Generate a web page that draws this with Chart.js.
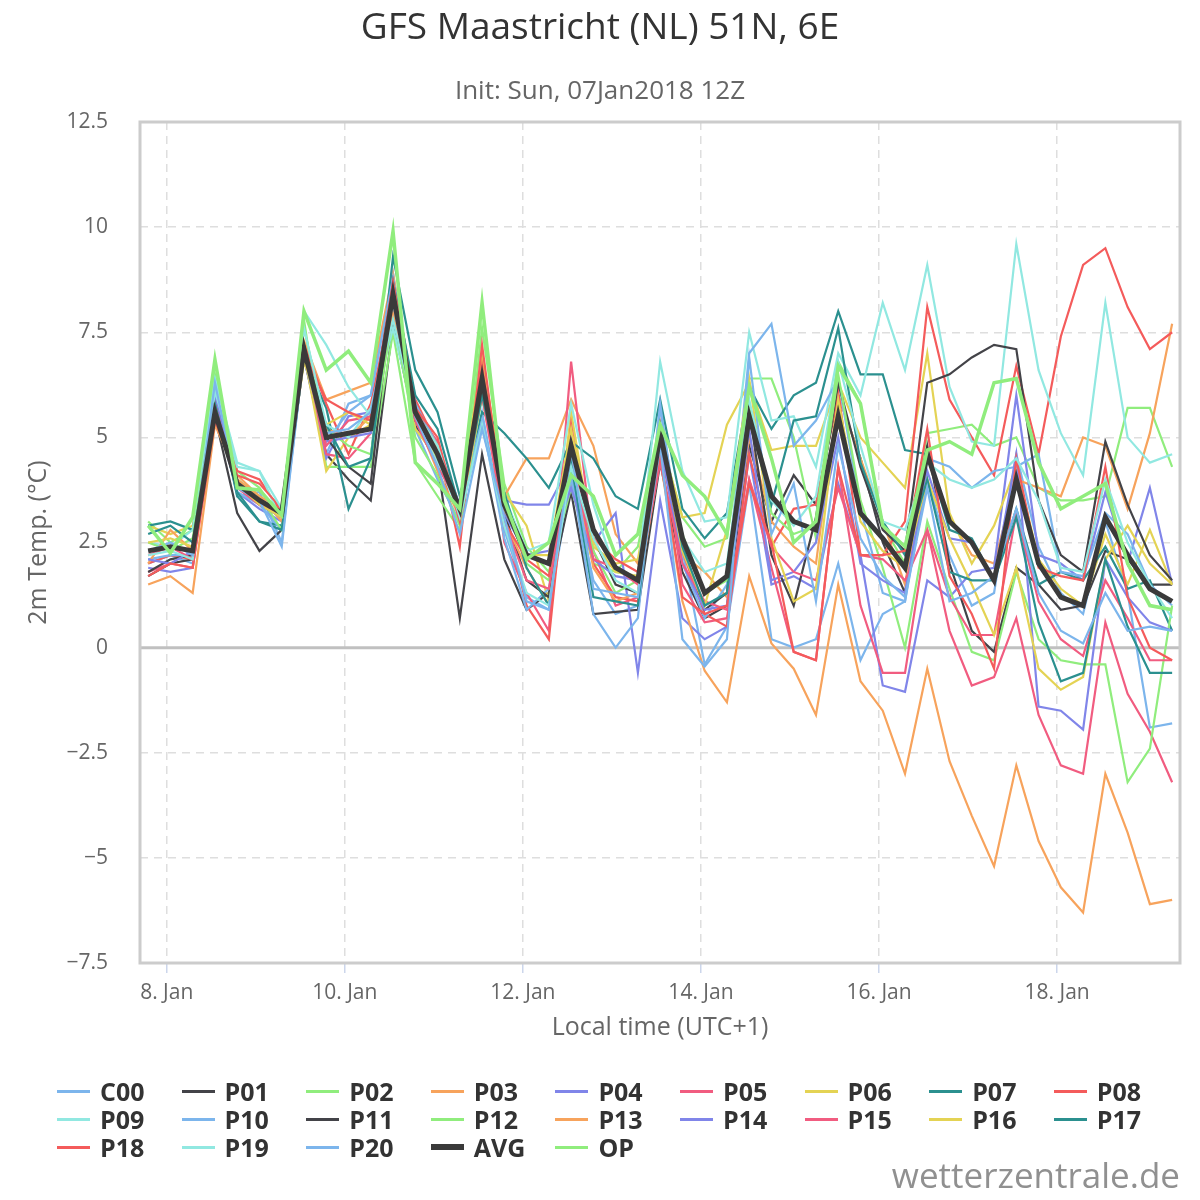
<!DOCTYPE html>
<html lang="en">

<head>
    <meta charset="UTF-8">
    <title>GFS Maastricht</title>
    <script src="https://cdn.jsdelivr.net/npm/chart.js"></script>
    <style>
        body {
            margin: 0;
            background: #fff;
            font-family: "Open Sans", "Noto Sans", sans-serif;
        }

        .wrap {
            position: relative;
            width: 1200px;
            height: 1200px;
        }

        #legend {
            position: absolute;
            left: 57px;
            top: 1077px;
            display: grid;
            grid-template-columns: repeat(9, 124.6px);
            grid-auto-rows: 28px;
        }

        .item {
            display: flex;
            align-items: center;
            font-weight: bold;
            font-size: 25px;
            color: #333;
        }

        .item span.sym {
            display: inline-block;
            width: 33px;
            margin-right: 10px;
        }

        .mark {
            position: absolute;
            right: 20px;
            top: 1151px;
            font-size: 35px;
            color: #909090;
        }
    </style>
</head>

<body>
    <div class="wrap">
        <canvas id="ensChart" width="1200" height="1200"></canvas>
        <div id="legend"></div>
        <div class="mark">wetterzentrale.de</div>
    </div>
    <script>
        // time grid: first value 7 Jan 19:00 local, then every 6 hours
        const firstHour = -5;
        const stepHours = 6;
        const tickDays = [0, 2, 4, 6, 8, 10];
        const tickLabels = ['8. Jan', '10. Jan', '12. Jan', '14. Jan', '16. Jan', '18. Jan'];

        const c00 = [2.0, 2.2, 2.0, 6.2, 3.6, 3.7, 2.5, 7.0, 4.6, 5.8, 6.0, 8.9, 5.2, 4.0, 3.0, 5.6, 2.8, 1.2, 0.9, 4.0, 1.6, 0.8, 1.0, 5.7, 2.3, -0.4, 0.5, 3.9, 0.2, 0.0, 0.2, 2.0, -0.3, 0.8, 1.1, 4.0, 2.2, 1.0, 1.3, 4.6, 2.4, 1.3, 0.8, 3.0, 1.3, -1.9, -1.8];
        const p01 = [1.7, 2.0, 2.1, 5.5, 3.2, 2.3, 2.8, 6.9, 4.6, 4.0, 3.5, 7.7, 5.3, 4.4, 0.7, 4.6, 2.1, 0.9, 1.3, 3.7, 0.8, 0.85, 0.9, 4.4, 1.8, 0.7, 1.0, 4.8, 3.0, 4.1, 3.4, 6.0, 4.5, 2.5, 1.3, 4.8, 2.0, 0.4, -0.1, 1.9, 1.5, 0.9, 1.0, 2.3, 2.1, 1.5, 1.5];
        const p02 = [3.0, 2.5, 2.8, 6.5, 4.2, 3.8, 3.0, 7.8, 4.3, 4.3, 4.3, 7.5, 4.4, 3.6, 2.8, 7.6, 3.9, 2.4, 1.8, 3.8, 2.0, 1.8, 2.4, 5.0, 3.1, 2.4, 2.6, 6.4, 6.4, 5.0, 2.6, 6.8, 5.8, 2.9, 2.0, 5.1, 5.2, 5.3, 4.8, 5.0, 3.8, 3.5, 3.5, 3.6, 5.7, 5.7, 4.3];
        const p03 = [1.5, 1.7, 1.3, 5.3, 4.1, 3.6, 3.3, 7.3, 5.9, 6.1, 6.3, 8.9, 5.8, 4.7, 3.2, 6.9, 3.6, 4.5, 4.5, 5.9, 4.8, 2.7, 2.0, 4.8, 2.2, 1.8, 1.2, 5.0, 3.0, 2.4, 2.0, 6.0, 4.5, 3.0, 1.5, 4.6, 3.1, 2.2, 2.0, 4.0, 3.8, 3.6, 5.0, 4.8, 3.3, 5.1, 7.7];
        const p04 = [1.9, 1.8, 1.9, 5.7, 3.7, 3.3, 3.0, 6.9, 4.5, 5.5, 5.6, 8.6, 5.2, 4.6, 3.3, 6.1, 3.5, 3.4, 3.4, 4.4, 2.5, 3.2, -0.6, 3.5, 0.7, 0.2, 0.5, 4.6, 1.5, 1.7, 1.4, 3.9, 2.2, -0.9, -1.05, 1.6, 1.2, 1.8, 1.9, 6.0, 2.2, 2.0, 1.6, 3.7, 2.0, 3.8, 1.5];
        const p05 = [1.8, 2.0, 1.9, 5.6, 4.0, 3.5, 3.1, 7.1, 4.6, 4.5, 5.1, 8.1, 5.6, 4.9, 3.0, 6.6, 2.5, 1.3, 0.4, 6.8, 2.3, 1.0, 1.2, 5.3, 1.5, 0.6, 0.7, 4.0, 1.9, -0.1, -0.3, 4.3, 1.0, -0.6, -0.6, 2.8, 0.4, -0.9, -0.7, 0.7, -1.6, -2.8, -3.0, 0.6, -1.1, -2.0, -3.2];
        const p06 = [2.9, 2.7, 2.9, 6.1, 3.8, 3.5, 3.2, 7.0, 4.2, 5.0, 5.3, 8.1, 5.2, 4.5, 3.4, 6.9, 3.7, 2.9, 1.1, 5.6, 2.4, 2.0, 2.1, 5.0, 3.1, 3.2, 5.3, 6.3, 4.7, 4.8, 4.8, 6.3, 5.0, 4.4, 3.8, 7.0, 3.2, 2.0, 2.9, 4.3, 2.1, 1.4, 1.0, 2.7, 1.5, 2.8, 1.5];
        const p07 = [2.9, 3.0, 2.8, 6.0, 3.6, 3.0, 2.9, 6.9, 5.7, 3.3, 4.5, 9.3, 6.6, 5.6, 3.6, 5.6, 5.1, 4.5, 3.8, 4.9, 4.5, 3.6, 3.3, 5.9, 3.3, 2.6, 3.2, 6.2, 5.2, 6.0, 6.3, 8.0, 6.5, 6.5, 4.7, 4.6, 2.8, 2.6, 1.6, 3.3, 1.5, 1.8, 1.6, 2.4, 1.4, 1.6, 0.4];
        const p08 = [2.0, 2.2, 2.1, 5.8, 4.2, 4.0, 3.2, 7.2, 5.8, 4.6, 5.8, 8.3, 5.9, 4.8, 2.4, 7.2, 3.2, 1.0, 0.2, 5.3, 2.0, 1.2, 1.1, 5.2, 2.3, 0.8, 0.5, 4.6, 2.4, 3.3, 3.4, 6.1, 2.2, 2.2, 3.0, 8.1, 5.9, 5.0, 4.1, 6.7, 4.6, 7.4, 9.1, 9.5, 8.1, 7.1, 7.5];
        const p09 = [2.5, 2.4, 2.8, 6.4, 4.4, 4.2, 3.0, 8.0, 7.2, 6.2, 5.5, 7.6, 5.4, 4.4, 3.2, 5.9, 3.6, 2.3, 2.5, 5.8, 3.4, 1.8, 1.7, 6.8, 4.2, 3.0, 3.1, 7.5, 5.4, 5.5, 4.3, 7.0, 6.0, 8.2, 6.6, 9.1, 6.2, 4.9, 4.8, 9.6, 6.6, 5.1, 4.1, 8.2, 5.0, 4.4, 4.6];
        const p10 = [2.1, 2.2, 2.2, 6.2, 3.7, 3.4, 2.8, 6.9, 4.9, 5.6, 6.0, 8.8, 5.8, 4.8, 3.1, 5.4, 2.6, 0.9, 1.4, 4.2, 0.8, 0.0, 0.7, 5.8, 2.0, 0.7, 1.5, 7.0, 7.7, 4.8, 5.4, 6.4, 3.3, 1.3, 1.1, 4.5, 4.3, 3.8, 4.2, 4.3, 4.6, 1.8, 1.7, 3.2, 2.7, 1.5, 1.0];
        const p11 = [1.8, 2.1, 2.2, 5.6, 3.9, 3.4, 3.1, 7.2, 5.0, 4.3, 3.9, 8.6, 5.4, 4.6, 3.2, 6.2, 3.2, 1.6, 1.2, 4.6, 2.6, 1.5, 1.3, 4.9, 2.4, 0.9, 1.3, 5.6, 2.2, 1.0, 3.1, 6.3, 4.3, 2.8, 2.3, 6.3, 6.5, 6.9, 7.2, 7.1, 3.5, 2.2, 1.8, 4.9, 3.4, 2.2, 1.6];
        const p12 = [2.5, 2.3, 2.6, 6.0, 4.0, 3.6, 2.8, 7.6, 5.2, 4.8, 4.6, 8.0, 5.0, 4.1, 2.9, 6.0, 3.5, 2.0, 1.6, 4.3, 2.3, 1.3, 1.6, 5.2, 2.7, 1.3, 1.6, 5.8, 3.2, 2.7, 2.9, 6.5, 3.5, 1.9, 0.0, 3.0, 1.4, -0.1, -0.3, 1.8, 0.2, -0.3, -0.4, -0.4, -3.2, -2.4, 1.0];
        const p13 = [2.0, 2.8, 2.3, 5.9, 4.0, 3.6, 3.0, 7.1, 5.2, 5.0, 5.5, 8.0, 5.5, 4.2, 3.1, 6.0, 3.0, 1.9, 1.0, 4.6, 1.9, 1.1, 1.3, 4.5, 1.1, -0.55, -1.3, 1.7, 0.1, -0.5, -1.6, 1.5, -0.8, -1.5, -3.0, -0.5, -2.7, -4.0, -5.2, -2.8, -4.6, -5.7, -6.3, -3.0, -4.4, -6.1, -6.0];
        const p14 = [2.1, 2.0, 2.3, 6.0, 3.9, 3.4, 3.1, 7.0, 4.9, 5.0, 5.1, 8.7, 5.6, 4.8, 3.4, 6.3, 3.2, 2.2, 2.3, 3.8, 2.1, 1.7, 1.6, 4.8, 2.0, 0.9, 1.0, 5.2, 1.6, 1.8, 2.5, 5.0, 2.0, 1.6, 1.3, 4.2, 2.6, 2.5, 1.6, 4.6, -1.4, -1.5, -1.95, 2.1, 1.2, 0.6, 0.4];
        const p15 = [2.2, 2.4, 2.1, 5.8, 3.8, 3.4, 3.2, 7.0, 4.8, 5.4, 5.5, 8.3, 5.4, 4.3, 3.4, 6.0, 3.0, 1.6, 1.4, 4.6, 2.1, 1.9, 1.5, 4.4, 2.0, 1.1, 0.9, 4.0, 2.4, 1.8, 1.6, 3.8, 2.2, 2.1, 1.6, 2.8, 1.2, 0.3, 0.3, 3.2, 1.1, 0.2, -0.2, 1.6, 0.7, -0.3, -0.3];
        const p16 = [2.5, 2.6, 2.4, 5.5, 3.9, 3.4, 3.1, 6.8, 5.3, 5.6, 5.3, 8.5, 5.6, 4.8, 3.3, 6.5, 3.3, 2.2, 2.2, 5.2, 2.5, 1.8, 1.7, 5.1, 2.3, 1.0, 2.8, 6.4, 2.6, 1.1, 1.4, 5.9, 3.0, 2.3, 1.9, 4.0, 2.6, 1.5, 0.3, 1.9, -0.5, -1.0, -0.7, 2.1, 2.9, 2.0, 1.5];
        const p17 = [2.7, 2.9, 2.5, 5.8, 3.7, 3.0, 2.8, 7.0, 5.3, 4.3, 4.5, 8.7, 6.0, 5.2, 3.3, 6.0, 3.7, 1.9, 1.0, 4.4, 1.2, 1.1, 1.0, 5.3, 2.4, 1.0, 1.3, 5.5, 3.4, 5.4, 5.5, 7.6, 4.4, 3.0, 2.2, 4.0, 1.8, 1.6, 1.6, 3.1, 0.6, -0.8, -0.6, 2.1, 0.5, -0.6, -0.6];
        const p18 = [1.7, 2.0, 1.9, 5.4, 4.1, 3.9, 3.3, 7.0, 5.9, 5.6, 5.4, 8.7, 5.7, 5.0, 3.0, 6.7, 3.0, 2.1, 1.7, 4.9, 2.6, 2.1, 1.8, 4.6, 1.2, 0.8, 1.0, 3.9, 2.5, -0.1, -0.3, 4.3, 2.2, 2.2, 2.3, 5.2, 1.7, 0.8, -0.5, 4.5, 1.9, 1.7, 1.6, 4.3, 1.2, 0.0, -0.3];
        const p19 = [2.2, 2.3, 2.1, 6.1, 4.3, 4.2, 3.3, 7.6, 5.3, 5.0, 5.7, 7.8, 5.6, 4.8, 3.1, 5.3, 2.9, 1.3, 1.0, 4.3, 2.6, 1.6, 1.3, 5.2, 2.6, 1.8, 2.0, 5.9, 3.5, 2.9, 3.6, 6.8, 4.8, 3.0, 2.8, 4.4, 4.0, 3.8, 4.0, 4.5, 3.5, 1.9, 1.8, 4.0, 2.5, 1.5, 0.7];
        const p20 = [2.3, 2.5, 2.2, 6.3, 3.8, 3.5, 2.4, 7.0, 5.1, 5.2, 5.6, 8.2, 5.5, 4.3, 2.7, 5.2, 3.1, 1.1, 0.9, 4.7, 1.4, 1.3, 1.2, 4.8, 0.2, -0.45, 0.2, 6.9, 2.7, 3.9, 1.1, 4.8, 2.6, 1.7, 1.2, 3.8, 1.1, 1.3, 1.7, 3.3, 1.3, 0.4, 0.1, 1.3, 0.4, 0.5, 0.4];
        const avg = [2.3, 2.4, 2.3, 5.6, 3.9, 3.5, 3.2, 7.1, 5.0, 5.1, 5.2, 8.4, 5.6, 4.6, 3.3, 6.4, 3.4, 2.2, 2.0, 4.8, 2.8, 1.9, 1.6, 5.1, 2.6, 1.3, 1.7, 5.5, 3.6, 3.0, 2.8, 5.5, 3.2, 2.6, 1.9, 4.6, 3.0, 2.5, 1.6, 4.0, 2.0, 1.2, 1.0, 3.1, 2.2, 1.4, 1.1];
        const op = [2.9, 2.25, 3.1, 6.85, 3.8, 3.75, 3.15, 8.0, 6.6, 7.05, 6.3, 9.9, 4.4, 3.9, 3.3, 8.2, 3.5, 2.1, 2.5, 4.1, 3.6, 2.2, 2.7, 5.3, 4.1, 3.6, 2.7, 6.2, 4.5, 2.5, 3.0, 6.7, 5.8, 2.9, 2.4, 4.7, 4.9, 4.6, 6.3, 6.4, 4.4, 3.3, 3.6, 3.9, 2.0, 1.0, 0.9];

        const names = ['C00', 'P01', 'P02', 'P03', 'P04', 'P05', 'P06', 'P07', 'P08', 'P09', 'P10', 'P11', 'P12', 'P13', 'P14', 'P15', 'P16', 'P17', 'P18', 'P19', 'P20', 'AVG', 'OP'];
        const series = [c00, p01, p02, p03, p04, p05, p06, p07, p08, p09, p10, p11, p12, p13, p14, p15, p16, p17, p18, p19, p20, avg, op];
        const palette = ['#7cb5ec', '#434348', '#90ed7d', '#f7a35c', '#8085e9', '#f15c80', '#e4d354', '#2b908f', '#f45b5b', '#91e8e1'];

        function lineColor(i) {
            return names[i] === 'AVG' ? '#3a3a3a' : palette[i % palette.length];
        }
        function lineWidth(i) {
            if (names[i] === 'AVG') return 5;
            if (names[i] === 'OP') return 3.5;
            return 2.2;
        }

        const datasets = series.map((vals, i) => ({
            label: names[i],
            data: vals.map((v, k) => ({ x: (firstHour + k * stepHours) / 24, y: v })),
            borderColor: lineColor(i),
            borderWidth: lineWidth(i),
            pointRadius: 0,
            tension: 0,
            order: series.length - i
        }));

        // plot frame and zero line
        const framePlugin = {
            id: 'frame',
            beforeDatasetsDraw(chart) {
                const { ctx, chartArea: a, scales: { y } } = chart;
                const y0 = y.getPixelForValue(0);
                ctx.save();
                ctx.strokeStyle = '#c0c0c0';
                ctx.lineWidth = 3;
                ctx.beginPath();
                ctx.moveTo(a.left, y0);
                ctx.lineTo(a.right, y0);
                ctx.stroke();
                ctx.restore();
            },
            afterDraw(chart) {
                const { ctx, chartArea: a } = chart;
                ctx.save();
                ctx.strokeStyle = '#cccccc';
                ctx.lineWidth = 3;
                ctx.strokeRect(a.left, a.top, a.right - a.left, a.bottom - a.top);
                ctx.restore();
            }
        };

        Chart.defaults.font.family = '"Open Sans", "Noto Sans", sans-serif';

        new Chart(document.getElementById('ensChart'), {
            type: 'line',
            data: { datasets },
            plugins: [framePlugin],
            options: {
                responsive: false,
                animation: false,
                layout: { padding: { left: 20, right: 20, top: 0, bottom: 157 } },
                plugins: {
                    legend: { display: false },
                    tooltip: { enabled: false },
                    title: {
                        display: true,
                        text: 'GFS Maastricht (NL) 51N, 6E',
                        color: '#333',
                        font: { size: 37, weight: 'normal' },
                        padding: { top: 6, bottom: 10 }
                    },
                    subtitle: {
                        display: true,
                        text: 'Init: Sun, 07Jan2018 12Z',
                        color: '#666',
                        font: { size: 26 },
                        padding: { top: 16, bottom: 14.4 }
                    }
                },
                scales: {
                    x: {
                        type: 'linear',
                        min: -0.3,
                        max: 11.38,
                        afterFit(scale) { scale.height = 80; },
                        afterBuildTicks(scale) {
                            scale.ticks = tickDays.map(v => ({ value: v }));
                        },
                        ticks: {
                            color: '#666',
                            font: { size: 21 },
                            padding: 7,
                            maxRotation: 0,
                            callback: (v) => tickLabels[tickDays.indexOf(v)]
                        },
                        grid: {
                            color: '#dedede',
                            lineWidth: 1.5,
                            drawTicks: true,
                            tickLength: 10,
                            tickColor: '#ccd6eb'
                        },
                        border: { display: false, dash: [8, 6] },
                        title: {
                            display: true,
                            text: 'Local time (UTC+1)',
                            color: '#666',
                            font: { size: 25 },
                            padding: { top: 0, bottom: 0 }
                        }
                    },
                    y: {
                        min: -7.5,
                        max: 12.5,
                        afterFit(scale) { scale.width = 120; },
                        ticks: {
                            stepSize: 2.5,
                            color: '#666',
                            font: { size: 21 },
                            padding: 32,
                            callback: (v) => String(v).replace('-', '\u2212')
                        },
                        grid: {
                            color: '#dedede',
                            lineWidth: 1.5,
                            drawTicks: false
                        },
                        border: { display: false, dash: [8, 6] },
                        title: {
                            display: true,
                            text: '2m Temp. (°C)',
                            color: '#666',
                            font: { size: 25 },
                            padding: { top: 4, bottom: 0 }
                        }
                    }
                }
            }
        });

        // legend in the same grid as the original
        const legend = document.getElementById('legend');
        names.forEach((name, i) => {
            const item = document.createElement('div');
            item.className = 'item';
            const sym = document.createElement('span');
            sym.className = 'sym';
            sym.style.height = (name === 'AVG' ? 6 : 3) + 'px';
            sym.style.background = lineColor(i);
            item.appendChild(sym);
            item.appendChild(document.createTextNode(name));
            legend.appendChild(item);
        });
    </script>
</body>

</html>
